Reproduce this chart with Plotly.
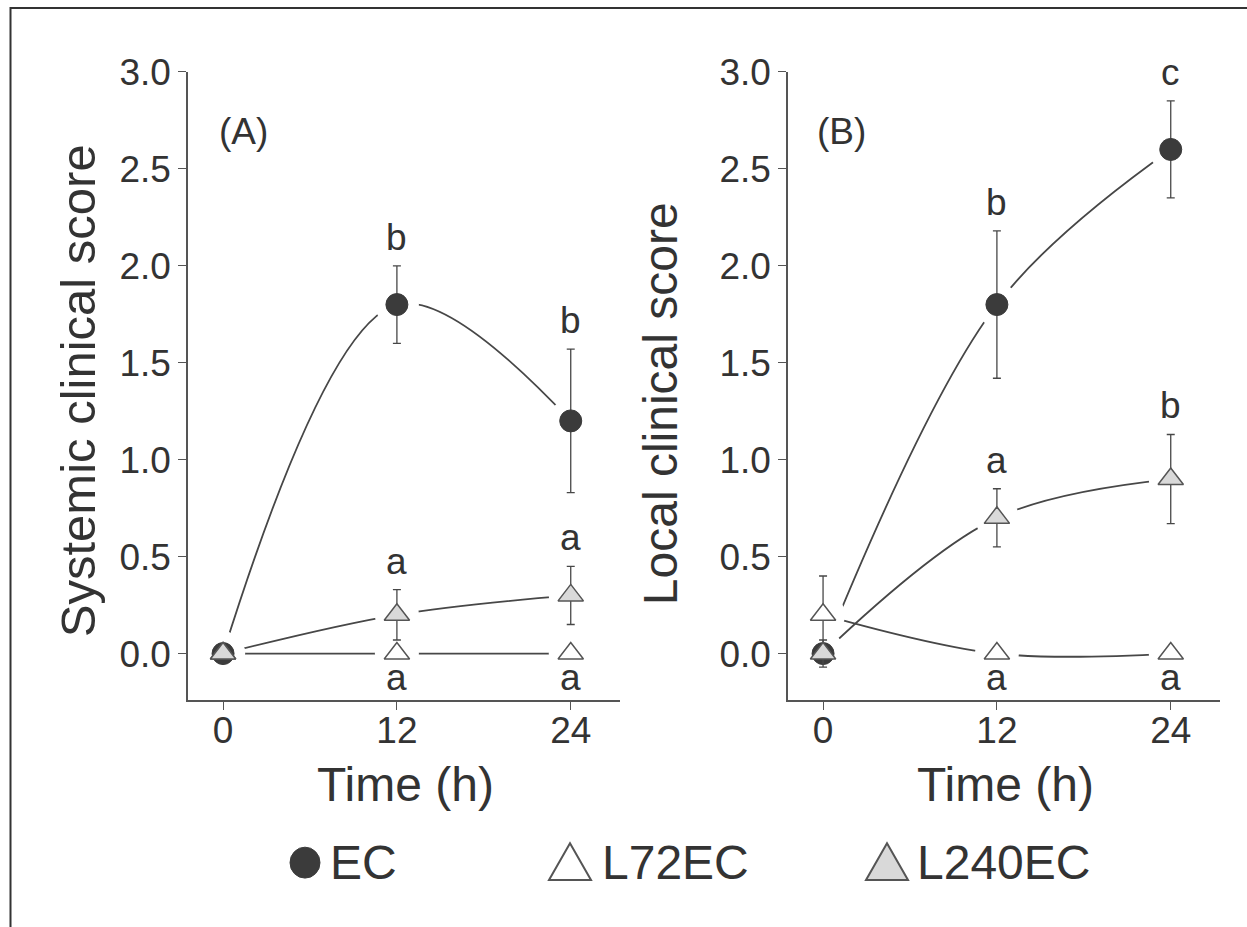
import plotly.graph_objects as go

# ---------------- data ----------------
times = [0, 12, 24]
series = ["EC", "L72EC", "L240EC"]

# Panel A: systemic clinical score
sys_EC = [0.0, 1.8, 1.2]
sys_EC_err = [0.0, 0.2, 0.37]
sys_L72 = [0.0, 0.0, 0.0]
sys_L72_err = [0.0, 0.0, 0.0]
sys_L240 = [0.0, 0.2, 0.3]
sys_L240_err = [0.0, 0.13, 0.15]

# Panel B: local clinical score
loc_EC = [0.0, 1.8, 2.6]
loc_EC_err = [0.0, 0.38, 0.25]
loc_L72 = [0.2, 0.0, 0.0]
loc_L72_err = [0.2, 0.0, 0.0]
loc_L240 = [0.0, 0.7, 0.9]
loc_L240_err = [0.07, 0.15, 0.23]

# significance letters
sys_letters = {"EC": ["", "b", "b"], "L72EC": ["", "a", "a"], "L240EC": ["", "a", "a"]}
loc_letters = {"EC": ["", "b", "c"], "L72EC": ["", "a", "a"], "L240EC": ["", "a", "b"]}

y_ticks = [0.0, 0.5, 1.0, 1.5, 2.0, 2.5, 3.0]
x_ticks = [0, 12, 24]

# ---------------- style ----------------
W, H = 1247, 927
FONT = "Liberation Sans, Arial, Helvetica, sans-serif"
TXT = "#333333"
AX = "#555555"
LINE = "#474747"
styles = {
    "EC": dict(symbol="circle", size=22, color="#3b3b3b", line=dict(color="#3b3b3b", width=1)),
    "L72EC": dict(symbol="triangle-up", size=22, color="white", line=dict(color="#555555", width=1.5)),
    "L240EC": dict(symbol="triangle-up", size=22, color="#d9d9d9", line=dict(color="#555555", width=1.5)),
}


def px_x(p):
    return p / W


def px_y(p):
    # vertical pixel position (as seen in the photographed page) -> paper fraction
    return 1 - (p - 18) / 909


fig = go.Figure()

panels = [
    ("x", "y", {"EC": (sys_EC, sys_EC_err), "L72EC": (sys_L72, sys_L72_err), "L240EC": (sys_L240, sys_L240_err)}, sys_letters),
    ("x2", "y2", {"EC": (loc_EC, loc_EC_err), "L72EC": (loc_L72, loc_L72_err), "L240EC": (loc_L240, loc_L240_err)}, loc_letters),
]

for xa, ya, data, letters in panels:
    for s in series:
        vals, _ = data[s]
        fig.add_trace(go.Scatter(x=times, y=vals, mode="lines", xaxis=xa, yaxis=ya,
                                 line=dict(color=LINE, width=1.8, shape="spline"),
                                 showlegend=False, hoverinfo="skip"))
    for s in series:
        vals, _ = data[s]
        fig.add_trace(go.Scatter(x=times, y=vals, mode="markers", xaxis=xa, yaxis=ya,
                                 marker=dict(symbol="circle", size=44, color="white", line=dict(width=0)),
                                 showlegend=False, hoverinfo="skip"))
    for s in series:
        vals, errs = data[s]
        fig.add_trace(go.Scatter(x=times, y=vals, mode="markers", xaxis=xa, yaxis=ya, name=s,
                                 marker=styles[s],
                                 error_y=dict(type="data", array=errs, visible=True, color=LINE,
                                              thickness=1.3, width=4),
                                 showlegend=False))
    for s in series:
        vals, errs = data[s]
        for t, v, e, lab in zip(times, vals, errs, letters[s]):
            if not lab:
                continue
            if s == "L72EC":
                fig.add_annotation(x=t, y=v, xref=xa, yref=ya, text=lab, showarrow=False,
                                   yanchor="middle", yshift=-24,
                                   font=dict(family=FONT, size=37, color=TXT))
            else:
                fig.add_annotation(x=t, y=v + e, xref=xa, yref=ya, text=lab, showarrow=False,
                                   yanchor="bottom", yshift=6,
                                   font=dict(family=FONT, size=37, color=TXT))

axis_common = dict(showline=True, linecolor=AX, linewidth=1.5, ticks="outside", ticklen=8,
                   tickwidth=1.3, tickcolor=AX, showgrid=False, zeroline=False,
                   tickfont=dict(family=FONT, size=37, color=TXT))

fig.update_layout(
    width=W, height=H,
    margin=dict(l=0, r=0, t=0, b=0, pad=0),
    paper_bgcolor="white", plot_bgcolor="white",
    showlegend=False,
    xaxis=dict(domain=[px_x(188), px_x(620)], range=[-2.42, 27.4], tickvals=x_ticks,
               anchor="y", ticklabelstandoff=-12, **axis_common),
    yaxis=dict(domain=[px_y(700), px_y(70)], range=[-0.242, 3.0], tickvals=y_ticks,
               tickformat=".1f", anchor="x", **axis_common),
    xaxis2=dict(domain=[px_x(788), px_x(1220)], range=[-2.42, 27.4], tickvals=x_ticks,
                anchor="y2", ticklabelstandoff=-12, **axis_common),
    yaxis2=dict(domain=[px_y(700), px_y(70)], range=[-0.242, 3.0], tickvals=y_ticks,
                tickformat=".1f", anchor="x2", **axis_common),
)


def paper_text(x, y, text, size, angle=0, xanchor="center"):
    fig.add_annotation(x=px_x(x), y=px_y(y), xref="paper", yref="paper", text=text,
                       showarrow=False, textangle=angle, xanchor=xanchor, yanchor="middle",
                       font=dict(family=FONT, size=size, color=TXT))


paper_text(243, 130, "(A)", 37)
paper_text(841, 130, "(B)", 37)
paper_text(78, 390, "Systemic clinical score", 49, angle=-90)
paper_text(660, 403, "Local clinical score", 48, angle=-90)
paper_text(405, 784, "Time (h)", 48)
paper_text(1005, 784, "Time (h)", 48)

fig.add_shape(type="circle", xref="paper", yref="paper",
              x0=px_x(290), x1=px_x(320), y0=px_y(878), y1=px_y(847),
              fillcolor="#3b3b3b", line=dict(color="#3b3b3b", width=1))


def tri_path(cx, top, bottom, half):
    return (f"M {px_x(cx - half)},{px_y(bottom)} L {px_x(cx + half)},{px_y(bottom)} "
            f"L {px_x(cx)},{px_y(top)} Z")


fig.add_shape(type="path", xref="paper", yref="paper", path=tri_path(570, 843, 880, 21),
              fillcolor="white", line=dict(color="#555555", width=2))
fig.add_shape(type="path", xref="paper", yref="paper", path=tri_path(887, 843, 880, 21),
              fillcolor="#d9d9d9", line=dict(color="#555555", width=2))
paper_text(328, 862, "EC", 48, xanchor="left")
paper_text(600, 862, "L72EC", 48, xanchor="left")
paper_text(915, 862, "L240EC", 48, xanchor="left")

# outer frame (left and top edges)
fig.add_shape(type="path", xref="paper", yref="paper",
              path=f"M {px_x(10.5)},-0.05 L {px_x(10.5)},{px_y(6)} L 1.01,{px_y(6)}",
              line=dict(color="#333333", width=2))

fig.write_html("out.html")
